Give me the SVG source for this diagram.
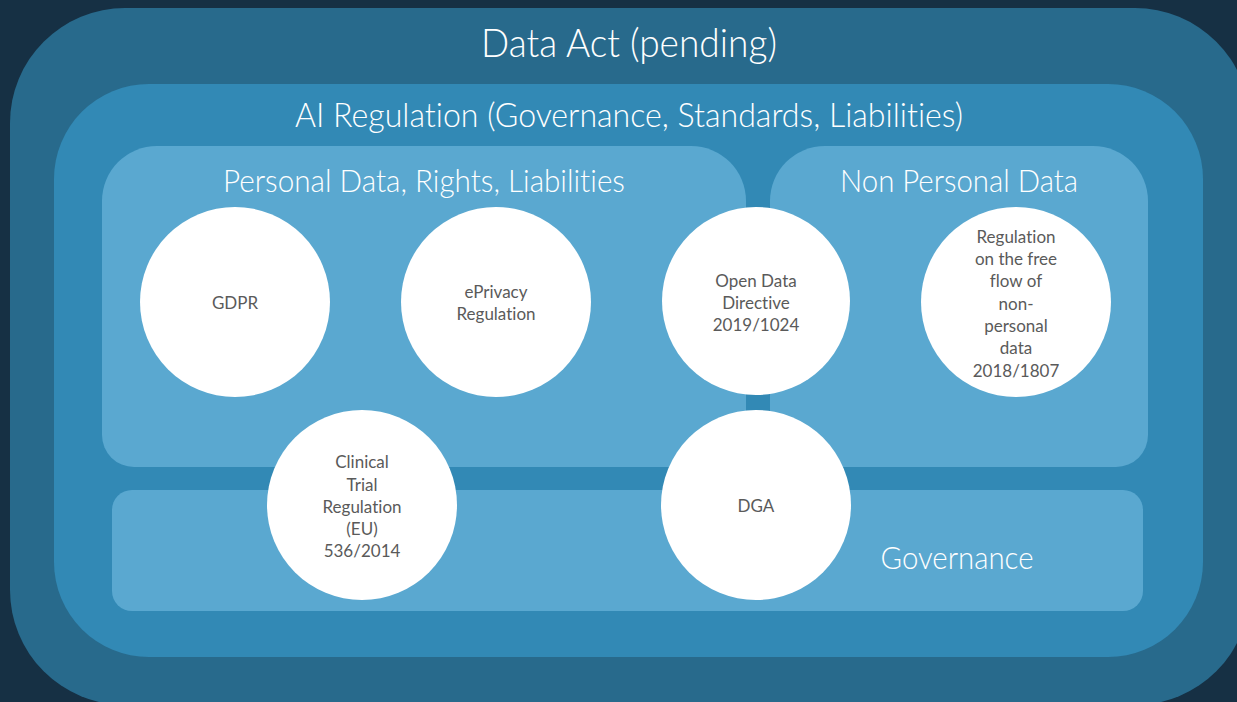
<svg xmlns="http://www.w3.org/2000/svg" width="1237" height="702" viewBox="0 0 1237 702">
<style>
text{font-variant-ligatures:none;font-feature-settings:"liga" 0}
.title{font-family:Lato,"Liberation Sans",sans-serif;fill:#ffffff;text-anchor:middle;font-weight:300}
.ct{font-family:Lato,"Liberation Sans",sans-serif;fill:#5a5a5a;text-anchor:middle;font-size:17px;font-weight:400}
.circ{fill:#ffffff}
.inner{fill:#5aa8d0}
</style>
<rect x="0" y="0" width="1237" height="702" fill="#163044"/>
<g id="data-act">
<rect x="10" y="8" width="1240" height="697" rx="115" fill="#286a8c"/>
<text class="title" x="629" y="57" font-size="40" textLength="296" lengthAdjust="spacingAndGlyphs">Data Act (pending)</text>
</g>
<g id="ai-regulation">
<rect x="54" y="84" width="1149" height="573" rx="95" fill="#3289b5"/>
<text class="title" x="629" y="127" font-size="33" textLength="668" lengthAdjust="spacingAndGlyphs">AI Regulation (Governance, Standards, Liabilities)</text>
</g>
<g id="personal-data">
<path class="inner" d="M157,146 H691 A55,55 0 0 1 746,201 V435 A32,32 0 0 1 714,467 H134 A32,32 0 0 1 102,435 V201 A55,55 0 0 1 157,146 Z"/>
<text class="title" x="424" y="192" font-size="32" textLength="402" lengthAdjust="spacingAndGlyphs">Personal Data, Rights, Liabilities</text>
</g>
<g id="non-personal-data">
<path class="inner" d="M825,146 H1093 A55,55 0 0 1 1148,201 V435 A32,32 0 0 1 1116,467 H802 A32,32 0 0 1 770,435 V201 A55,55 0 0 1 825,146 Z"/>
<text class="title" x="959" y="192" font-size="32" textLength="238" lengthAdjust="spacingAndGlyphs">Non Personal Data</text>
</g>
<g id="governance">
<rect class="inner" x="112" y="490" width="1031" height="121" rx="20"/>
<text class="title" x="957" y="569" font-size="31" textLength="153" lengthAdjust="spacingAndGlyphs">Governance</text>
</g>
<g id="connectors"></g>
<g id="gdpr">
<circle class="circ" cx="235" cy="302" r="95"/>
<text class="ct" x="235" y="309">GDPR</text>
</g>
<g id="eprivacy">
<circle class="circ" cx="496" cy="302" r="95"/>
<text class="ct" x="496" y="298">ePrivacy</text>
<text class="ct" x="496" y="320">Regulation</text>
</g>
<g id="open-data">
<circle class="circ" cx="756" cy="301" r="94"/>
<text class="ct" x="756" y="287">Open Data</text>
<text class="ct" x="756" y="309">Directive</text>
<text class="ct" x="756" y="331">2019/1024</text>
</g>
<g id="free-flow">
<circle class="circ" cx="1016" cy="302" r="95"/>
<text class="ct" x="1016" y="243">Regulation</text>
<text class="ct" x="1016" y="265">on the free</text>
<text class="ct" x="1016" y="287">flow of</text>
<text class="ct" x="1016" y="310">non-</text>
<text class="ct" x="1016" y="332">personal</text>
<text class="ct" x="1016" y="354">data</text>
<text class="ct" x="1016" y="377">2018/1807</text>
</g>
<g id="clinical-trial">
<circle class="circ" cx="362" cy="505" r="95"/>
<text class="ct" x="362" y="468">Clinical</text>
<text class="ct" x="362" y="491">Trial</text>
<text class="ct" x="362" y="513">Regulation</text>
<text class="ct" x="362" y="535">(EU)</text>
<text class="ct" x="362" y="557">536/2014</text>
</g>
<g id="dga">
<circle class="circ" cx="756" cy="505" r="95"/>
<text class="ct" x="756" y="512">DGA</text>
</g>
</svg>
